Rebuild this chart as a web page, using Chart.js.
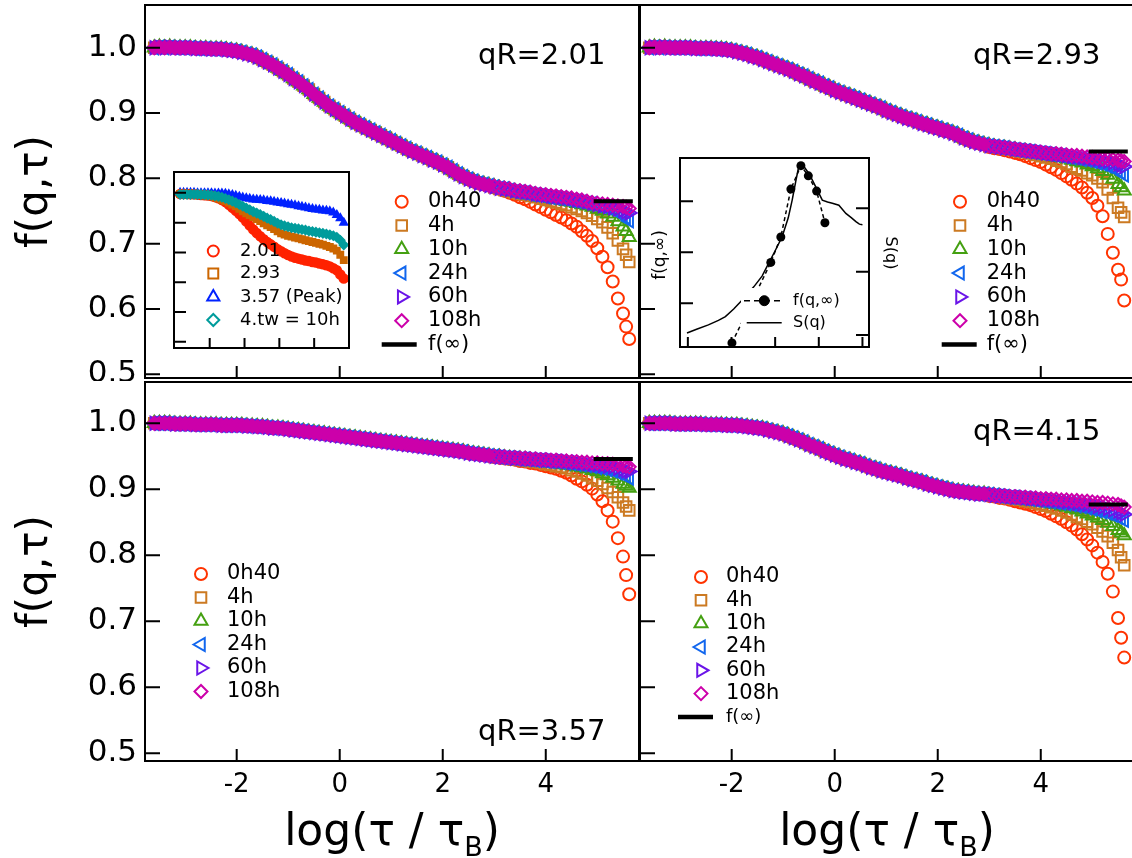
<!DOCTYPE html>
<html>
<head>
<meta charset="utf-8">
<title>f(q,τ) ageing</title>
<script src="https://cdn.jsdelivr.net/npm/chart.js@4.4.1/dist/chart.umd.min.js"></script>
<style>
  html, body { margin: 0; padding: 0; background: #fff; }
  body { position: relative; width: 1132px; height: 858px; overflow: hidden; }
  canvas { position: absolute; }
</style>
</head>
<body>
<canvas id="cTL"></canvas>
<canvas id="cTR"></canvas>
<canvas id="cBL"></canvas>
<canvas id="cBR"></canvas>
<canvas id="iTL"></canvas>
<canvas id="iTR"></canvas>
<script>
const FONT = "'DejaVu Sans', 'Liberation Sans', sans-serif";

// log(tau/tauB): shared early part, then the long-time tail where the ages split
const xEarly = [-3.6,-3.5,-3.4,-3.3,-3.2,-3.1,-3.0,-2.9,-2.8,-2.7,-2.6,-2.5,-2.4,-2.3,-2.2,-2.1,-2.0,-1.9,-1.8,-1.7,-1.6,-1.5,-1.4,-1.3,-1.2,-1.1,-1.0,-0.9,-0.8,-0.7,-0.6,-0.5,-0.4,-0.3,-0.2,-0.1,0.0,0.1,0.2,0.3,0.4,0.5,0.6,0.7,0.8,0.9,1.0,1.1,1.2,1.3,1.4,1.5,1.6,1.7,1.8,1.9,2.0,2.1,2.2,2.3,2.4,2.5,2.6,2.7,2.8,2.9];
const xLate = [3.0,3.1,3.2,3.3,3.4,3.5,3.6,3.7,3.8,3.9,4.0,4.1,4.2,4.3,4.4,4.5,4.6,4.7,4.8,4.9,5.0,5.1,5.2,5.3,5.4,5.5,5.56,5.62];
const ages = ['0h40', '4h', '10h', '24h', '60h', '108h'];
const yTickVals = [0.5, 0.6, 0.7, 0.8, 0.9, 1.0];
const xTickVals = [-2, 0, 2, 4];

// qR = 2.01
const tlEarly = [1.000,1.001,1.000,1.001,1.000,1.000,1.000,1.000,0.999,0.999,0.999,0.998,0.998,0.998,0.997,0.996,0.995,0.993,0.991,0.989,0.986,0.982,0.978,0.974,0.969,0.964,0.959,0.953,0.948,0.942,0.936,0.929,0.923,0.917,0.911,0.906,0.901,0.896,0.891,0.886,0.882,0.878,0.874,0.870,0.866,0.862,0.858,0.854,0.850,0.846,0.842,0.839,0.835,0.832,0.828,0.825,0.821,0.817,0.812,0.807,0.803,0.799,0.796,0.793,0.791,0.789];
const tl0h40 = [.786,.784,.781,.778,.775,.771,.768,.764,.760,.756,.752,.748,.744,.740,.736,.731,.726,.719,.712,.704,.693,.680,.664,.642,.616,.593,.573,.554];
const tl4h = [.786,.784,.782,.780,.778,.776,.775,.773,.771,.769,.767,.765,.763,.761,.759,.756,.753,.750,.747,.743,.738,.733,.725,.716,.705,.692,.683,.672];
const tl10h = [.787,.785,.783,.782,.780,.778,.777,.775,.774,.772,.771,.770,.768,.767,.765,.764,.762,.760,.758,.756,.753,.750,.746,.741,.734,.726,.719,.710];
const tl24h = [.787,.785,.784,.782,.780,.779,.778,.776,.775,.774,.772,.771,.770,.769,.768,.766,.765,.764,.762,.761,.759,.757,.755,.752,.748,.744,.740,.735];
const tl60h = [.787,.785,.784,.783,.781,.780,.779,.778,.776,.775,.774,.773,.772,.771,.770,.769,.767,.766,.764,.762,.760,.758,.757,.755,.753,.751,.749,.747];
const tl108h = [.788,.786,.785,.784,.782,.781,.780,.779,.777,.776,.775,.774,.773,.772,.771,.770,.768,.767,.765,.763,.762,.761,.760,.759,.758,.757,.756,.754];

// qR = 2.93
const trEarly = [1.000,1.001,1.000,1.001,1.000,1.000,1.000,1.000,1.000,0.999,0.999,0.999,0.999,0.998,0.998,0.997,0.996,0.994,0.992,0.990,0.987,0.985,0.982,0.979,0.976,0.973,0.970,0.967,0.964,0.960,0.957,0.953,0.949,0.946,0.942,0.939,0.935,0.932,0.929,0.926,0.923,0.920,0.917,0.914,0.911,0.908,0.904,0.901,0.898,0.895,0.892,0.890,0.887,0.884,0.882,0.879,0.877,0.874,0.872,0.869,0.866,0.862,0.859,0.856,0.854,0.852];
const tr0h40 = [.848,.846,.845,.843,.841,.839,.837,.834,.831,.828,.825,.821,.817,.813,.808,.803,.798,.792,.786,.778,.770,.758,.742,.715,.686,.660,.645,.613];
const tr4h = [.849,.848,.847,.845,.844,.843,.841,.840,.838,.836,.834,.832,.830,.827,.825,.822,.818,.815,.812,.808,.805,.800,.794,.783,.770,.755,.748,.741];
const tr10h = [.850,.848,.847,.846,.845,.844,.842,.841,.840,.839,.837,.836,.835,.833,.832,.830,.828,.826,.824,.821,.818,.815,.811,.805,.799,.791,.786,.781];
const tr24h = [.850,.849,.848,.847,.845,.844,.843,.842,.841,.840,.839,.838,.837,.836,.835,.833,.832,.831,.829,.828,.826,.824,.822,.819,.816,.812,.809,.805];
const tr60h = [.850,.849,.848,.847,.846,.845,.844,.843,.842,.841,.840,.839,.838,.837,.836,.835,.834,.833,.832,.831,.830,.829,.827,.826,.824,.822,.820,.818];
const tr108h = [.850,.849,.848,.847,.846,.845,.844,.843,.842,.841,.840,.839,.838,.838,.837,.836,.835,.835,.834,.833,.832,.831,.830,.830,.829,.828,.827,.826];

// qR = 3.57
const blEarly = [1.000,1.000,1.000,1.000,0.999,0.999,0.999,0.999,0.998,0.998,0.998,0.998,0.998,0.997,0.997,0.997,0.997,0.997,0.996,0.996,0.995,0.995,0.994,0.993,0.993,0.992,0.991,0.990,0.989,0.988,0.987,0.986,0.985,0.984,0.983,0.982,0.981,0.980,0.979,0.978,0.977,0.976,0.975,0.974,0.973,0.972,0.971,0.970,0.969,0.968,0.967,0.966,0.965,0.964,0.963,0.962,0.961,0.960,0.959,0.958,0.957,0.955,0.954,0.953,0.952,0.951];
const bl0h40 = [.949,.948,.947,.946,.945,.943,.942,.940,.939,.937,.935,.933,.931,.928,.925,.921,.916,.912,.907,.901,.892,.882,.868,.851,.826,.798,.770,.741];
const bl4h = [.949,.948,.947,.946,.945,.944,.943,.942,.941,.940,.938,.937,.935,.934,.932,.929,.927,.924,.921,.917,.913,.908,.902,.896,.888,.880,.874,.868];
const bl10h = [.949,.949,.948,.947,.946,.946,.945,.944,.943,.942,.941,.940,.939,.938,.937,.936,.934,.933,.931,.929,.927,.924,.921,.917,.913,.908,.905,.902];
const bl24h = [.950,.949,.948,.948,.947,.946,.946,.945,.944,.944,.943,.942,.942,.941,.940,.939,.938,.937,.936,.935,.933,.932,.930,.928,.925,.922,.920,.917];
const bl60h = [.950,.949,.949,.948,.947,.947,.946,.946,.945,.945,.944,.944,.943,.943,.942,.941,.941,.940,.939,.938,.937,.936,.935,.934,.932,.930,.928,.927];
const bl108h = [.950,.949,.949,.948,.948,.947,.947,.946,.946,.945,.945,.944,.944,.943,.943,.942,.942,.941,.941,.940,.940,.939,.939,.938,.937,.936,.935,.934];

// qR = 4.15
const brEarly = [1.000,1.000,1.000,1.000,1.000,0.999,0.999,0.999,0.999,0.999,0.999,0.998,0.998,0.998,0.998,0.997,0.997,0.997,0.996,0.995,0.994,0.993,0.992,0.990,0.988,0.986,0.984,0.981,0.978,0.975,0.972,0.968,0.965,0.962,0.958,0.955,0.952,0.949,0.946,0.944,0.941,0.939,0.936,0.933,0.931,0.928,0.926,0.924,0.922,0.920,0.917,0.915,0.913,0.911,0.908,0.906,0.904,0.902,0.900,0.898,0.897,0.896,0.895,0.894,0.893,0.893];
const br0h40 = [.890,.889,.887,.886,.884,.882,.880,.878,.876,.873,.870,.867,.863,.859,.855,.850,.845,.839,.832,.824,.815,.804,.790,.772,.745,.705,.675,.645];
const br4h = [.891,.890,.889,.887,.886,.885,.884,.882,.881,.879,.877,.875,.873,.871,.868,.865,.862,.858,.855,.851,.847,.842,.836,.829,.819,.808,.797,.785];
const br10h = [.891,.890,.889,.888,.887,.886,.885,.884,.883,.882,.881,.880,.878,.877,.875,.873,.871,.869,.866,.863,.860,.857,.853,.849,.844,.838,.834,.830];
const br24h = [.892,.891,.890,.889,.888,.888,.887,.886,.885,.884,.883,.882,.881,.880,.879,.878,.877,.875,.874,.872,.870,.868,.866,.864,.861,.858,.856,.853];
const br60h = [.892,.891,.890,.890,.889,.888,.888,.887,.886,.886,.885,.884,.884,.883,.882,.881,.880,.879,.878,.877,.876,.874,.873,.871,.869,.867,.865,.862];
const br108h = [.892,.891,.890,.890,.889,.889,.888,.888,.887,.887,.886,.886,.885,.885,.884,.884,.883,.883,.882,.882,.881,.880,.880,.879,.878,.877,.875,.873];

// plateau f(inf) bars, one per panel: qR 2.01, 2.93, 3.57, 4.15
const fInfX = [4.93, 5.69];
const fInfLevel = [0.765, 0.841, 0.946, 0.877];

// inset 1: tw = 10h at four wave vectors
const insetX = [-3.7,-3.5,-3.3,-3.1,-2.9,-2.7,-2.5,-2.3,-2.1,-1.9,-1.7,-1.5,-1.3,-1.1,-0.9,-0.7,-0.5,-0.3,-0.1,0.1,0.3,0.5,0.7,0.9,1.1,1.3,1.5,1.7,1.9,2.1,2.3,2.5,2.7,2.9,3.1,3.3,3.5,3.7,3.9,4.1,4.3,4.5,4.7,4.9,5.1,5.3,5.5,5.7];
const in201 = [.996,.996,.996,.995,.995,.994,.993,.992,.991,.989,.986,.982,.976,.969,.960,.950,.940,.929,.917,.904,.890,.877,.865,.854,.844,.835,.827,.819,.811,.804,.797,.791,.786,.782,.779,.776,.773,.771,.768,.766,.763,.760,.757,.753,.747,.740,.726,.712];
const in293 = [.996,.996,.996,.995,.995,.994,.993,.992,.990,.988,.985,.981,.977,.972,.967,.961,.955,.946,.938,.931,.925,.919,.912,.905,.898,.891,.885,.878,.871,.864,.860,.856,.853,.850,.847,.844,.841,.838,.835,.832,.829,.826,.822,.818,.813,.806,.792,.774];
const in357 = [1.000,1.000,1.000,1.000,1.000,0.999,0.999,0.999,0.999,0.999,0.998,0.998,0.998,0.997,0.995,0.993,0.990,0.987,0.984,0.982,0.980,0.978,0.977,0.976,0.975,0.973,0.972,0.970,0.968,0.966,0.964,0.962,0.960,0.958,0.955,0.953,0.951,0.948,0.946,0.944,0.943,0.941,0.940,0.938,0.934,0.926,0.915,0.900];
const in415 = [.995,.995,.995,.995,.995,.995,.994,.994,.993,.992,.990,.988,.985,.981,.977,.972,.967,.961,.955,.949,.943,.937,.932,.927,.921,.915,.910,.904,.898,.893,.889,.886,.883,.881,.879,.877,.875,.872,.870,.868,.866,.864,.862,.859,.856,.851,.841,.825];
const insetNames = ['2.01', '2.93', '3.57 (Peak)', '4.tw = 10h'];

// inset 2: f(q,inf) points and static structure factor S(q) against qR
const qDots = [2.01, 2.90, 3.13, 3.36, 3.59, 3.76, 3.95, 4.14];
const fDots = [0.761, 0.840, 0.865, 0.912, 0.935, 0.925, 0.910, 0.879];
const qS = [0.98,1.20,1.47,1.70,1.86,2.05,2.24,2.51,2.70,2.85,3.00,3.16,3.30,3.39,3.47,3.54,3.60,3.68,3.77,3.85,3.93,4.08,4.20,4.31,4.46,4.62,4.75,4.85,4.93,5.00];
const sS = [1.03,1.09,1.16,1.23,1.29,1.41,1.55,1.76,1.93,2.13,2.33,2.55,2.85,3.13,3.42,3.66,3.69,3.64,3.55,3.45,3.34,3.13,3.10,3.08,3.05,2.92,2.85,2.79,2.75,2.74];

// marker looks
const ageColors = ['#ff3300', '#cc7a22', '#44a011', '#1166ee', '#6a14e8', '#cc00aa'];
const ageShapes = ['circle', 'rect', 'triangle', 'triangle', 'triangle', 'rectRot'];
const ageRot = [0, 0, 0, -90, 90, 0];
const ageRadius = [6, 7.5, 7.5, 7.5, 7.5, 6.5];
const insetColors = ['#ff2200', '#cc6600', '#0022ff', '#009c9c'];
const insetShapes = ['circle', 'rect', 'triangle', 'rectRot'];
const insetOrder = [2, 1, 3, 0];
const denseUntil = 3.0; // where the overlapping markers read as a solid band

Chart.defaults.font.family = FONT;
Chart.defaults.color = '#000';

function place(id, left, top, w, h) {
  const c = document.getElementById(id);
  c.width = w; c.height = h;
  c.style.left = left + 'px'; c.style.top = top + 'px';
  return c;
}

function fixAxis(size, horizontal) {
  return s => {
    if (horizontal) s.height = size; else s.width = size;
    s.paddingTop = 0; s.paddingBottom = 0; s.paddingLeft = 0; s.paddingRight = 0;
  };
}

function bareAxis(min, max, horizontal, extra) {
  return Object.assign({
    type: 'linear', min: min, max: max,
    grid: { display: false, drawTicks: false }, border: { display: false },
    ticks: { display: false },
    afterFit: fixAxis(0, horizontal)
  }, extra || {});
}

function drawXTitle(ctx, cx, y) {
  const parts = [['log(τ / τ', 44, 0], ['B', 27, 11], [')', 44, 0]];
  let w = 0;
  parts.forEach(p => { ctx.font = p[1] + 'px ' + FONT; w += ctx.measureText(p[0]).width; });
  let x = cx - w / 2;
  ctx.textAlign = 'left'; ctx.textBaseline = 'alphabetic'; ctx.fillStyle = '#000';
  parts.forEach(p => {
    ctx.font = p[1] + 'px ' + FONT;
    ctx.fillText(p[0], x, y + p[2]);
    x += ctx.measureText(p[0]).width;
  });
}

function drawLegend(ctx, lg, ox, oy) {
  if (lg.bg) {
    ctx.fillStyle = '#fff';
    ctx.fillRect(lg.bg[0] - ox, lg.bg[1] - oy, lg.bg[2], lg.bg[3]);
  }
  lg.items.forEach((it, i) => {
    const y = lg.rows[i] - oy;
    if (it.line) {
      ctx.save();
      ctx.strokeStyle = '#000'; ctx.lineWidth = it.lw; ctx.setLineDash(it.dash || []);
      ctx.beginPath(); ctx.moveTo(it.line[0] - ox, y); ctx.lineTo(it.line[1] - ox, y); ctx.stroke();
      ctx.restore();
    }
    if (it.shape) {
      ctx.save();
      ctx.strokeStyle = it.color; ctx.fillStyle = it.fill || 'rgba(0,0,0,0)'; ctx.lineWidth = it.bw;
      Chart.helpers.drawPoint(ctx, { pointStyle: it.shape, rotation: it.rot || 0, radius: it.r, borderWidth: it.bw }, lg.mx - ox, y);
      ctx.restore();
    }
    ctx.fillStyle = '#000';
    ctx.font = (it.size || lg.size) + 'px ' + FONT;
    ctx.textAlign = 'left'; ctx.textBaseline = 'middle';
    ctx.fillText(it.text, lg.tx - ox, y);
  });
}

// frame, inward ticks, legends and labels, per canvas
const deco = {};
const decoPlugin = {
  id: 'deco',
  beforeDatasetsDraw(chart) {
    const d = deco[chart.canvas.id], a = chart.chartArea, ctx = chart.ctx;
    if (d.white) {
      ctx.save(); ctx.fillStyle = '#fff';
      ctx.fillRect(a.left, a.top, a.right - a.left, a.bottom - a.top);
      ctx.restore();
    }
  },
  afterDatasetsDraw(chart) {
    const d = deco[chart.canvas.id], a = chart.chartArea, ctx = chart.ctx;
    const ox = d.off[0], oy = d.off[1], sc = chart.scales;
    ctx.save();
    ctx.strokeStyle = '#000'; ctx.lineWidth = d.lw;
    ctx.beginPath();
    (d.yTicks || []).forEach(v => { const p = sc.y.getPixelForValue(v); ctx.moveTo(a.left, p); ctx.lineTo(a.left + d.yLen, p); });
    (d.y2Ticks || []).forEach(v => { const p = sc.y2.getPixelForValue(v); ctx.moveTo(a.right, p); ctx.lineTo(a.right - d.yLen, p); });
    (d.xTicks || []).forEach(v => { const p = sc.x.getPixelForValue(v); ctx.moveTo(p, a.bottom); ctx.lineTo(p, a.bottom - d.xLen); });
    ctx.stroke();
    ctx.lineWidth = 2;
    ctx.strokeRect(a.left, a.top, a.right - a.left, a.bottom - a.top);
    if (d.legend) drawLegend(ctx, d.legend, ox, oy);
    (d.texts || []).forEach(t => {
      ctx.save();
      ctx.translate(t.x - ox, t.y - oy);
      if (t.rot) ctx.rotate(t.rot * Math.PI / 180);
      ctx.font = t.size + 'px ' + FONT; ctx.fillStyle = '#000';
      ctx.textAlign = t.align || 'left'; ctx.textBaseline = t.base || 'alphabetic';
      ctx.fillText(t.t, 0, 0);
      ctx.restore();
    });
    if (d.xTitle) drawXTitle(ctx, (a.left + a.right) / 2, d.xTitle - oy);
    ctx.restore();
  }
};

function ageLegend(mx, tx, rows, infLine, infSize) {
  const items = ages.map((name, i) => ({
    text: name, shape: ageShapes[i], rot: ageRot[i], r: ageRadius[i], color: ageColors[i], bw: 2
  }));
  if (infLine) items.push({ text: 'f(∞)', line: infLine, lw: 4.5, size: infSize });
  return { mx: mx, tx: tx, rows: rows, size: 21, items: items };
}

function mainChart(id, box, pad, early, tails, level, yr, showY, showX) {
  const canvas = place(id, box[0], box[1], box[2], box[3]);
  const xs = xEarly.concat(xLate);
  const sets = ages.map((name, i) => {
    const ys = early.concat(tails[i]);
    return {
      label: name,
      data: xs.map((x, k) => ({ x: x, y: ys[k] })),
      showLine: false,
      pointStyle: ageShapes[i], pointRotation: ageRot[i], pointRadius: ageRadius[i],
      pointBorderColor: ageColors[i], pointBorderWidth: 2,
      pointBackgroundColor: c => (c.raw && c.raw.x < denseUntil) ? ageColors[i] : 'rgba(0,0,0,0)',
      borderColor: ageColors[i], backgroundColor: 'rgba(0,0,0,0)',
      order: 6 - i
    };
  });
  sets.push({
    label: 'f(∞)', data: fInfX.map(x => ({ x: x, y: level })),
    showLine: true, borderColor: '#000', borderWidth: 4, pointRadius: 0, order: 0
  });
  return new Chart(canvas, {
    type: 'scatter',
    data: { datasets: sets },
    options: {
      responsive: false, animation: false, events: [],
      layout: { autoPadding: false, padding: pad },
      plugins: { legend: { display: false }, tooltip: { enabled: false } },
      scales: {
        x: {
          type: 'linear', min: -3.78, max: 5.81,
          grid: { display: false, drawTicks: false }, border: { display: false },
          afterBuildTicks: s => { s.ticks = xTickVals.map(v => ({ value: v })); },
          ticks: { display: showX, font: { size: 26 }, color: '#000', padding: 9, maxRotation: 0, autoSkip: false },
          afterFit: fixAxis(showX ? 97 : 0, true)
        },
        y: {
          type: 'linear', min: yr[0], max: yr[1],
          grid: { display: false, drawTicks: false }, border: { display: false },
          afterBuildTicks: s => { s.ticks = yTickVals.map(v => ({ value: v })); },
          ticks: { display: showY, font: { size: 31 }, color: '#000', padding: 8, callback: v => Number(v).toFixed(1) },
          title: { display: showY, text: 'f(q,τ)', font: { size: 42 }, color: '#000', padding: { top: 11, bottom: 0 } },
          afterFit: fixAxis(showY ? 145 : 0, false)
        }
      }
    },
    plugins: [decoPlugin]
  });
}

const yTop = [0.4943, 1.0655];
const yBot = [0.4883, 1.0626];
const legRowsTop = [201.7, 225.5, 249.3, 273.1, 296.9, 320.7, 344.5];

deco.cTL = {
  off: [0, 0], lw: 2, yTicks: yTickVals, yLen: 15, xTicks: xTickVals, xLen: 12,
  legend: ageLegend(401.7, 428, legRowsTop, [381.7, 416.7]),
  texts: [{ t: 'qR=2.01', x: 478, y: 64, size: 29 }]
};
mainChart('cTL', [0, 0, 641, 381], { left: 0, top: 5, right: 2, bottom: 3 },
  tlEarly, [tl0h40, tl4h, tl10h, tl24h, tl60h, tl108h], fInfLevel[0], yTop, true, false);

deco.cTR = {
  off: [639, 0], lw: 2, yTicks: yTickVals, yLen: 15, xTicks: xTickVals, xLen: 12,
  legend: ageLegend(960, 986.7, legRowsTop, [941.7, 976.7]),
  texts: [{ t: 'qR=2.93', x: 973, y: 64, size: 29 }]
};
mainChart('cTR', [639, 0, 497, 381], { left: 1, top: 5, right: 2, bottom: 3 },
  trEarly, [tr0h40, tr4h, tr10h, tr24h, tr60h, tr108h], fInfLevel[1], yTop, false, false);

deco.cBL = {
  off: [0, 378], lw: 2, yTicks: yTickVals, yLen: 15, xTicks: xTickVals, xLen: 12, xTitle: 845,
  legend: ageLegend(201, 227, [574, 597.5, 621, 644.5, 668, 691.5], null),
  texts: [{ t: 'qR=3.57', x: 478, y: 740, size: 29 }]
};
mainChart('cBL', [0, 378, 641, 480], { left: 0, top: 4, right: 2, bottom: 0 },
  blEarly, [bl0h40, bl4h, bl10h, bl24h, bl60h, bl108h], fInfLevel[2], yBot, true, true);

deco.cBR = {
  off: [639, 378], lw: 2, yTicks: yTickVals, yLen: 15, xTicks: xTickVals, xLen: 12, xTitle: 845,
  legend: ageLegend(701, 726, [577, 600.3, 623.6, 647, 670.3, 693.6, 717], [678, 713], 18),
  texts: [{ t: 'qR=4.15', x: 973, y: 440, size: 29 }]
};
mainChart('cBR', [639, 378, 497, 480], { left: 1, top: 4, right: 2, bottom: 0 },
  brEarly, [br0h40, br4h, br10h, br24h, br60h, br108h], fInfLevel[3], yBot, false, true);

// inset 1: decay at tw = 10h for the four qR
deco.iTL = {
  off: [173, 171], lw: 2, white: true,
  yTicks: yTickVals, yLen: 12, xTicks: xTickVals, xLen: 10,
  legend: {
    mx: 213.3, tx: 240, rows: [251, 273.5, 297, 320], size: 18,
    items: insetNames.map((n, i) => ({
      text: n, shape: insetShapes[i], r: [5.5, 7, 7, 6][i], color: insetColors[i], bw: 2
    }))
  }
};
new Chart(place('iTL', 173, 171, 177, 178), {
  type: 'scatter',
  data: {
    datasets: [in201, in293, in357, in415].map((ys, i) => ({
      label: insetNames[i],
      data: insetX.map((x, k) => ({ x: x, y: ys[k] })),
      showLine: false,
      pointStyle: insetShapes[i], pointRadius: 4.5, pointBorderWidth: 1.5,
      pointBorderColor: insetColors[i], pointBackgroundColor: insetColors[i],
      order: insetOrder[i]
    }))
  },
  options: {
    responsive: false, animation: false, events: [],
    layout: { autoPadding: false, padding: 1 },
    plugins: { legend: { display: false }, tooltip: { enabled: false } },
    scales: { x: bareAxis(-4.05, 6.0, true), y: bareAxis(0.479, 1.07, false) }
  },
  plugins: [decoPlugin]
});

// inset 2: f(q,inf) against S(q)
deco.iTR = {
  off: [644, 157], lw: 2, white: true,
  yTicks: [0.80, 0.85, 0.90], y2Ticks: [1, 2, 3], yLen: 13, xTicks: [1, 2, 3, 4, 5], xLen: 10,
  legend: {
    bg: [741, 288, 110, 45], mx: 764.3, tx: 793, rows: [300.7, 322.7], size: 16,
    items: [
      { text: 'f(q,∞)', line: [744, 783], dash: [6, 4], lw: 1.5, shape: 'circle', r: 5, color: '#000', fill: '#000', bw: 1 },
      { text: 'S(q)', line: [746.7, 781.7], lw: 1.5 }
    ]
  },
  texts: [
    { t: 'f(q,∞)', x: 661, y: 255, size: 17, rot: -90, align: 'center', base: 'middle' },
    { t: 'S(q)', x: 890, y: 253, size: 16, rot: 90, align: 'center', base: 'middle' }
  ]
};
new Chart(place('iTR', 644, 157, 261, 191), {
  type: 'scatter',
  data: {
    datasets: [
      {
        label: 'f(q,∞)', yAxisID: 'y',
        data: qDots.map((q, k) => ({ x: q, y: fDots[k] })),
        showLine: true, borderColor: '#000', borderWidth: 1.5, borderDash: [4, 3],
        pointStyle: 'circle', pointRadius: 4.5, pointBorderWidth: 0,
        pointBackgroundColor: '#000', pointBorderColor: '#000', order: 0
      },
      {
        label: 'S(q)', yAxisID: 'y2',
        data: qS.map((q, k) => ({ x: q, y: sS[k] })),
        showLine: true, borderColor: '#000', borderWidth: 1.5, pointRadius: 0, order: 1
      }
    ]
  },
  options: {
    responsive: false, animation: false, events: [],
    layout: { autoPadding: false, padding: { left: 36, top: 1, right: 36, bottom: 1 } },
    plugins: { legend: { display: false }, tooltip: { enabled: false } },
    scales: {
      x: bareAxis(0.82, 5.15, true),
      y: bareAxis(0.757, 0.9425, false, { position: 'left' }),
      y2: bareAxis(0.81, 3.795, false, { position: 'right' })
    }
  },
  plugins: [decoPlugin]
});
</script>
</body>
</html>
